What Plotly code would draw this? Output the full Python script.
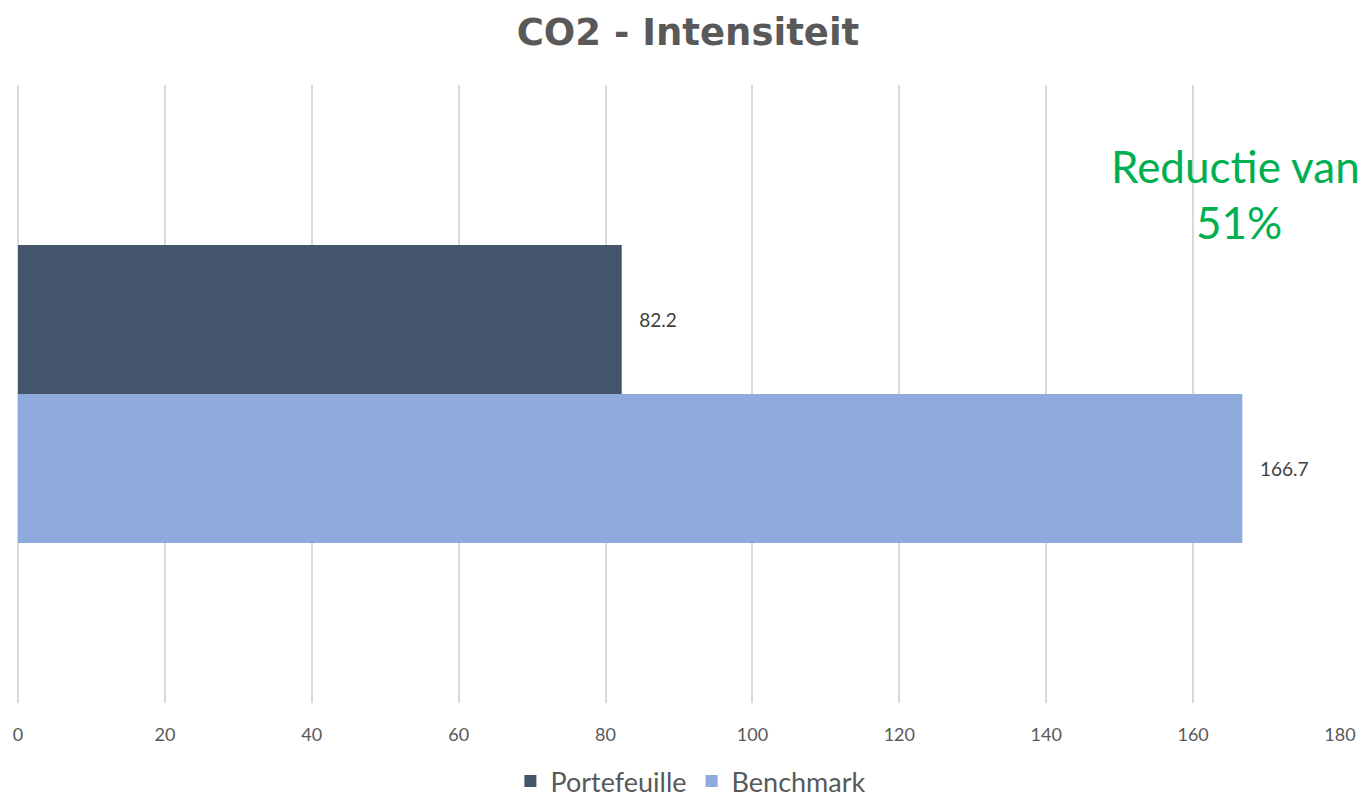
import plotly.graph_objects as go

categories = ["CO2"]
series_names = ["Portefeuille", "Benchmark"]
portefeuille = [82.2]
benchmark = [166.7]
colors = ["#44546A", "#8FAADC"]
tick_vals = [0, 20, 40, 60, 80, 100, 120, 140, 160, 180]

fig = go.Figure()
for name, vals, col in zip(series_names, [portefeuille, benchmark], colors):
    fig.add_trace(go.Bar(
        y=categories, x=vals, name=name, orientation="h",
        marker=dict(color=col, line=dict(width=0)),
        text=[f"   {v:.1f}" for v in vals], textposition="outside",
        textfont=dict(family="Lato, sans-serif", size=19, color="#404040"),
        cliponaxis=False,
    ))

fig.update_layout(
    width=1360, height=790,
    barmode="group", bargap=0.518, bargroupgap=0,
    plot_bgcolor="white", paper_bgcolor="white",
    margin=dict(l=10, r=28, t=77, b=95, autoexpand=False),
    title=dict(text="<b>CO2 - Intensiteit</b>", x=0.5, xanchor="center", y=1 - 24 / 790, yanchor="middle",
               font=dict(family="DejaVu Sans", size=37, color="#595959")),
    xaxis=dict(range=[0, 180], tickvals=tick_vals, showgrid=True, gridcolor="#D9D9D9", gridwidth=2,
               zeroline=True, zerolinecolor="#D9D9D9", zerolinewidth=2, showline=False,
               ticks="", ticklabelstandoff=19,
               tickfont=dict(family="Lato, sans-serif", size=18, color="#595959")),
    yaxis=dict(autorange="reversed", showticklabels=False, showgrid=False, zeroline=False),
    showlegend=True,
    legend=dict(orientation="h", x=0.509, xanchor="center", y=-0.127, yanchor="middle",
                font=dict(family="Lato, sans-serif", size=27, color="#595959"),
                itemwidth=30, tracegroupgap=0),
    annotations=[
        dict(text="Reductie van", xref="paper", yref="paper", x=1.0166, xanchor="right",
             y=0.869, yanchor="middle", showarrow=False,
             font=dict(family="Lato, sans-serif", size=44, color="#00B050")),
        dict(text="51%", xref="paper", yref="paper", x=0.9236, xanchor="center",
             y=0.778, yanchor="middle", showarrow=False,
             font=dict(family="Lato, sans-serif", size=44, color="#00B050")),
    ],
)

fig.write_html("out.html")
